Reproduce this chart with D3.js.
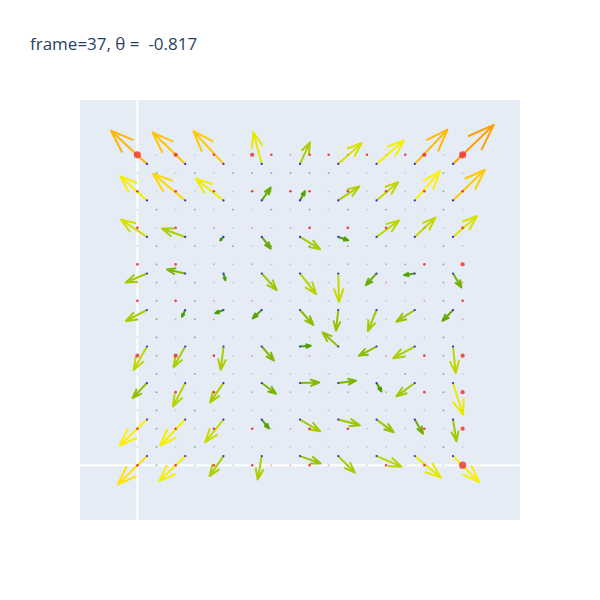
<!DOCTYPE html>
<html><head><meta charset="utf-8">
<script src="https://cdn.jsdelivr.net/npm/d3@7"></script>
<style>body{margin:0;background:#fff}</style>
</head><body><svg id="c" width="600" height="600"></svg>
<script>
const title = "frame=37, θ =  -0.817";
const xRange = [-3, 20];
const yRange = [-3, 20];
// arrow tail positions (data units)
const tailX = [0.5, 2.5, 4.5, 6.5, 8.5, 10.5, 12.5, 14.5, 16.5];
const tailY = [16.5, 14.5, 12.5, 10.5, 8.5, 6.5, 4.5, 2.5, 0.5];
// arrow components, rows top→bottom, cols left→right
const U = [
  [-1.88, -1.71, -1.57, -0.44, 0.52, 1.22, 1.44, 1.71, 2.13],
  [-1.40, -1.69, -1.44, 0.47, 0.26, 1.10, 1.13, 1.31, 1.66],
  [-1.36, -1.22, -0.17, 0.47, 1.05, 0.52, 1.18, 1.08, 1.25],
  [-1.10, -0.96, 0.10, 0.78, 0.84, 0.04, -0.56, -0.56, 0.44],
  [-1.10, -0.17, -0.43, -0.47, 0.70, -0.12, -0.45, -0.96, -0.55],
  [-0.70, -0.61, -0.14, 0.64, 0.56, -0.82, -0.93, -1.13, 0.14],
  [-0.75, -0.64, -0.70, 0.75, 1.01, 0.93, 0.26, -0.96, 0.52],
  [-1.43, -1.31, -0.96, 0.38, 1.05, 1.13, 0.90, 0.43, 0.18],
  [-1.52, -1.36, -0.73, -0.21, 1.08, 0.87, 1.31, 1.36, 1.36]
];
const V = [
  [1.82, 1.73, 1.79, 1.73, 1.18, 1.15, 1.28, 1.88, 2.14],
  [1.33, 1.46, 1.19, 0.70, 0.51, 0.77, 1.00, 1.59, 1.68],
  [0.95, 0.46, -0.18, -0.64, -0.67, -0.18, 0.91, 1.06, 1.15],
  [-0.49, 0.22, -0.37, -0.91, -1.13, -1.56, -0.64, -0.09, -0.77],
  [-0.60, -0.37, -0.18, -0.45, -0.82, -1.13, -1.15, -0.64, -0.60],
  [-1.28, -1.13, -1.28, -0.77, 0.04, 0.77, -0.51, -0.64, -1.46],
  [-0.82, -1.28, -1.06, -0.59, 0.03, 0.13, -0.46, -0.73, -1.74],
  [-1.42, -1.42, -1.24, -0.49, -0.64, -0.31, -0.70, -0.78, -1.19],
  [-1.55, -1.37, -1.10, -1.28, -0.40, -0.91, -0.58, -1.18, -1.42]
];
// fine grid of markers
const dotX = [0,1,2,3,4,5,6,7,8,9,10,11,12,13,14,15,16,17];
const dotY = [17,16,15,14,13,12,11,10,9,8,7,6,5,4,3,2,1,0];
const dotCodes = [
  "R.M.r.Mrorror.rMM.R",
  ".g.g.gggggg.....g.",
  "r.r.r.r.rr.r.r.rgr",
  ".g.g.g.g.g.g.g..g.",
  "r.r.o.o.or.r.r.o.r",
  ".g.g.g.g.g.g.g..g.",
  "rgr.o.o....o.ogrgM",
  "ogog.........og.go",
  "rgrgo.o........ogr",
  "ogogo...........go",
  ".g.g............g.",
  "MgM.r.o..o...o.rgM",
  ".g.g..........g.g.",
  ".gr.r.o.oo.o.o.rgM",
  ".g.g............g.",
  "rgr.r.r.or.r.o.r.M",
  ".g.g............g.",
  "rgr.r.rooro..r.r.R"
].map(s => s.length === 18 ? s : s.slice(0, 15) + s.slice(16));
const magStops = [0.2, 0.6, 0.85, 1.25, 1.6, 1.85, 2.05, 2.3, 2.55, 3.0];
const magColors = ["#339900", "#55a300", "#6aae00", "#a8cc00", "#cadc00", "#eeee00", "#fff000", "#ffd000", "#ffb800", "#ffa000"];

const svg = d3.select("#c");
const L = 80, R = 520, T = 100, B = 520;
const x = d3.scaleLinear().domain(xRange).range([L, R]);
const y = d3.scaleLinear().domain(yRange).range([B, T]);
const color = d3.scaleLinear().domain(magStops).range(magColors).clamp(true);

svg.append("rect").attr("x", L).attr("y", T).attr("width", R - L).attr("height", B - T).attr("fill", "#E5ECF6");

svg.append("clipPath").attr("id", "pc").append("rect")
  .attr("x", L).attr("y", T).attr("width", R - L).attr("height", B - T);

// zero lines
svg.append("line").attr("x1", x(0)).attr("x2", x(0)).attr("y1", T).attr("y2", B)
  .attr("stroke", "#fff").attr("stroke-width", 2);
svg.append("line").attr("x1", L).attr("x2", R).attr("y1", y(0)).attr("y2", y(0))
  .attr("stroke", "#fff").attr("stroke-width", 2);

const g = svg.append("g").attr("clip-path", "url(#pc)");

// arrows
const arrows = [];
tailY.forEach((ty, r) => tailX.forEach((tx, c) => {
  arrows.push({tx, ty, u: U[r][c], v: V[r][c]});
}));
const ang = Math.PI / 9, scaleBarb = 0.5;
g.selectAll("path.arrow").data(arrows).join("path")
  .attr("class", "arrow")
  .attr("d", d => {
    const x0 = x(d.tx), y0 = y(d.ty), x1 = x(d.tx + d.u), y1 = y(d.ty + d.v);
    const len = Math.hypot(x1 - x0, y1 - y0);
    const a = Math.atan2(y0 - y1, x0 - x1);
    const bl = len * scaleBarb;
    const b1x = x1 + bl * Math.cos(a + ang), b1y = y1 + bl * Math.sin(a + ang);
    const b2x = x1 + bl * Math.cos(a - ang), b2y = y1 + bl * Math.sin(a - ang);
    return `M${x0},${y0}L${x1},${y1}M${b1x},${b1y}L${x1},${y1}L${b2x},${b2y}`;
  })
  .attr("fill", "none")
  .attr("stroke", d => color(Math.hypot(d.u, d.v)))
  .attr("stroke-width", 2)
  .attr("stroke-linejoin", "round");

// fine dots
const dots = [];
dotY.forEach((dy, i) => dotX.forEach((dx, j) => {
  dots.push({x: dx, y: dy, code: dotCodes[i][j]});
}));
const dotStyle = {
  "R": {r: 3.6, fill: "#f03030", op: 0.8},
  "M": {r: 2.1, fill: "#f02828", op: 0.8},
  "r": {r: 1.3, fill: "#f02020", op: 0.85},
  "o": {r: 1.0, fill: "#f04020", op: 0.4},
  "g": {r: 0.9, fill: "#2a8a2a", op: 0.6},
  ".": {r: 0.9, fill: "#4a9a4a", op: 0.3}
};
g.selectAll("circle.dot").data(dots).join("circle")
  .attr("class", "dot")
  .attr("cx", d => x(d.x)).attr("cy", d => y(d.y))
  .attr("r", d => dotStyle[d.code].r)
  .attr("fill", d => dotStyle[d.code].fill)
  .attr("opacity", d => dotStyle[d.code].op);

// tail markers
g.selectAll("circle.tail").data(arrows).join("circle")
  .attr("class", "tail")
  .attr("cx", d => x(d.tx)).attr("cy", d => y(d.ty))
  .attr("r", 1.1).attr("fill", "#3030e0");

svg.append("text").attr("x", 30).attr("y", 50)
  .attr("font-family", "'Open Sans', sans-serif").attr("font-size", 17)
  .attr("fill", "#2a3f5f").style("white-space", "pre")
  .text(title);
</script>
</body></html>
